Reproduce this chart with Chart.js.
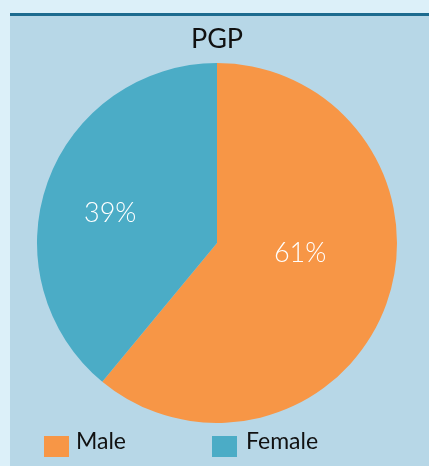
<!DOCTYPE html>
<html>
<head>
<meta charset="utf-8">
<script src="https://cdn.jsdelivr.net/npm/chart.js@4/dist/chart.umd.min.js"></script>
<style>
  html, body { margin: 0; padding: 0; width: 429px; height: 466px; overflow: hidden; background: #dcf0f9; font-family: Lato, "Noto Sans", sans-serif; }
  #panel { position: absolute; left: 10px; top: 13px; width: 419px; height: 453px; background: #b7d7e7; border-top: 3px solid #1d6b8f; box-sizing: border-box; overflow: hidden; }
  #wrap { position: absolute; left: 0; top: 0; width: 426px; height: 407px; }
  #legend { position: absolute; left: 0; top: 0; width: 100%; height: 100%; pointer-events: none; }
  .box { position: absolute; top: 420px; width: 25px; height: 21px; }
  .lbl { position: absolute; top: 411px; font-size: 23px; line-height: 1.2; color: #111; white-space: nowrap; }
</style>
</head>
<body>
<div id="panel">
  <div id="wrap"><canvas id="pieChart"></canvas></div>
  <div id="legend"></div>
</div>
<script>
// data
const title = "PGP";
const categories = ["Male", "Female"];
const shares = [61, 39];
const colors = ["#f79646", "#4bacc6"];

// label placement inside slices (fraction of radius, angle nudge in degrees)
const labelRadius = [0.465, 0.615];
const labelNudge = [-13, -4.5];

const pctLabels = {
    id: "pctLabels",
    afterDatasetsDraw(chart) {
        const ctx = chart.ctx;
        const meta = chart.getDatasetMeta(0);
        const total = shares.reduce((a, b) => a + b, 0);
        ctx.save();
        ctx.fillStyle = "#ffffff";
        ctx.font = "300 27px Lato";
        ctx.textAlign = "center";
        ctx.textBaseline = "middle";
        meta.data.forEach((arc, i) => {
            const p = arc.getProps(["x", "y", "startAngle", "endAngle", "outerRadius"], true);
            const mid = (p.startAngle + p.endAngle) / 2 + labelNudge[i] * Math.PI / 180;
            const r = p.outerRadius * labelRadius[i];
            const txt = Math.round(shares[i] / total * 100) + "%";
            ctx.fillText(txt, p.x + Math.cos(mid) * r, p.y + Math.sin(mid) * r);
        });
        ctx.restore();
    }
};

document.addEventListener("DOMContentLoaded", () => {
    const ctx = document.getElementById("pieChart").getContext("2d");
    new Chart(ctx, {
        type: "pie",
        data: {
            labels: categories,
            datasets: [{
                data: shares,
                backgroundColor: colors,
                borderWidth: 0
            }]
        },
        options: {
            responsive: true,
            maintainAspectRatio: false,
            animation: false,
            layout: { padding: { left: 0, right: 12, top: 0, bottom: 0 } },
            plugins: {
                legend: { display: false },
                tooltip: { enabled: false },
                title: {
                    display: true,
                    text: title,
                    color: "#111111",
                    font: { family: "Lato", size: 27, weight: "normal", lineHeight: 1.2 },
                    padding: { top: 7, bottom: 7.6 }
                }
            }
        },
        plugins: [pctLabels]
    });

    // legend built from the same arrays
    const boxX = [34, 202];
    const textX = [66, 236];
    const legend = document.getElementById("legend");
    categories.forEach((name, i) => {
        const box = document.createElement("div");
        box.className = "box";
        box.style.left = boxX[i] + "px";
        box.style.background = colors[i];
        const label = document.createElement("span");
        label.className = "lbl";
        label.style.left = textX[i] + "px";
        label.textContent = name;
        legend.appendChild(box);
        legend.appendChild(label);
    });
});
</script>
</body>
</html>
